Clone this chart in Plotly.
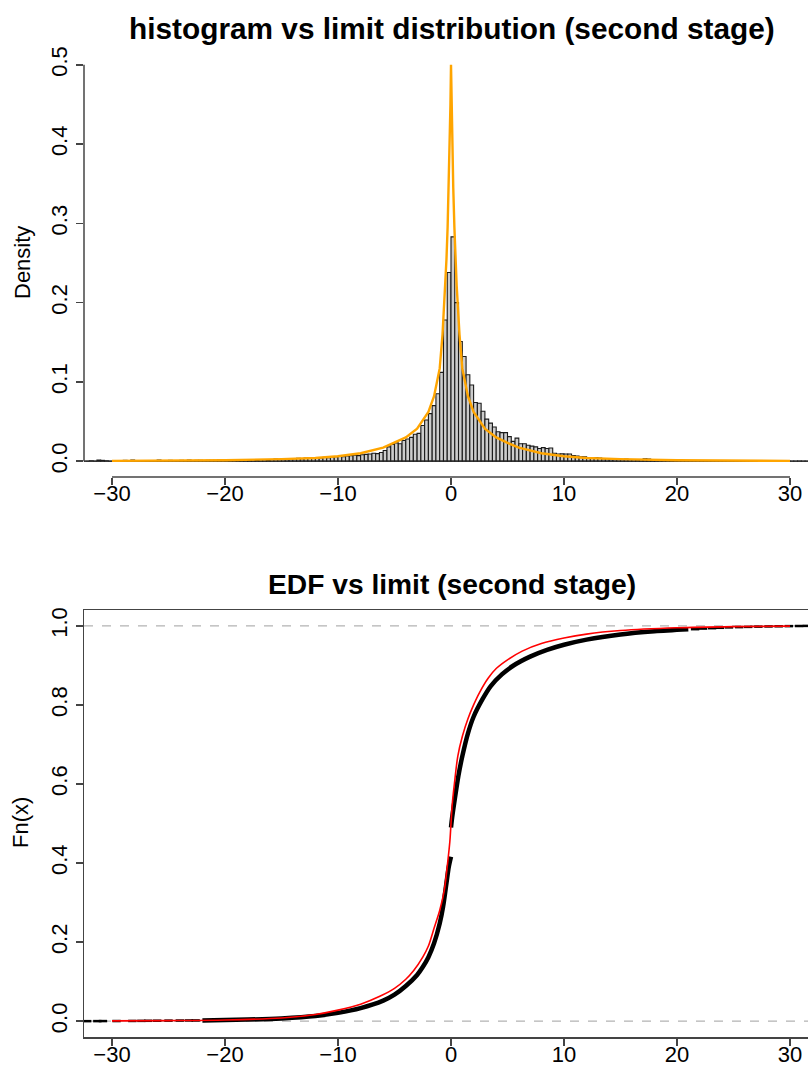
import plotly.graph_objects as go

# ---------------- data ----------------
hist_start = -33.0
bin_width = 1.0 / 3.0
# histogram densities, left to right (bins of width 1/3 from -33 to 33)
dens_left_tail = [0.0005, 0, 0, 0.0005, 0, 0.0015, 0.001, 0.0005, 0,
                  0, 0.0005, 0, 0.001, 0.0005, 0.0015, 0.0005, 0, 0.0005,
                  0.0005, 0, 0.0005, 0.0015, 0.0005, 0.0005, 0.001, 0.0005, 0.0005,
                  0.001, 0.0005, 0.0015, 0.0005, 0.001, 0.001, 0.0005, 0.001, 0.001,
                  0.001, 0.0015, 0.001, 0.001, 0.0015, 0.001, 0.002, 0.002, 0.001,
                  0.0015, 0.002, 0.0015, 0.002, 0.002, 0.0015]
dens_left_mid = [0.002, 0.0025, 0.002, 0.003, 0.0025, 0.003, 0.003, 0.0035, 0.003,
                 0.004, 0.0035, 0.004, 0.0045, 0.004, 0.005, 0.0045, 0.005, 0.0055,
                 0.006, 0.0055, 0.0065, 0.007, 0.0075, 0.007, 0.008, 0.0085, 0.009,
                 0.010, 0.0095, 0.011, 0.0135]
dens_left_core = [0.018, 0.021, 0.023, 0.022, 0.026, 0.028, 0.030, 0.034, 0.035,
                  0.045, 0.052, 0.060, 0.070, 0.085, 0.112, 0.178, 0.238]
dens_right_core = [0.283, 0.200, 0.151, 0.132, 0.109, 0.096, 0.074, 0.073, 0.063, 0.053,
                   0.048, 0.043, 0.037, 0.036, 0.036, 0.031, 0.025, 0.029, 0.022, 0.022,
                   0.020, 0.019, 0.018, 0.016, 0.017, 0.016, 0.0165, 0.010, 0.009, 0.0092,
                   0.009, 0.009, 0.0072, 0.0063, 0.0055, 0.0055, 0.0046, 0.0044, 0.0044, 0.004,
                   0.003, 0.003, 0.0028, 0.0028, 0.0025, 0.002, 0.0025]
dens_right_tail = [0.002, 0.002, 0.0018, 0.002, 0.003, 0.0025, 0.0015, 0.0015, 0.0012, 0.0012,
                   0.001, 0.001, 0.001, 0.0008, 0.001, 0.0007, 0.0008, 0.0006, 0.0007, 0.0005,
                   0.0006, 0.0005, 0.0004, 0.0005, 0.0003, 0.0005, 0.0004, 0.0003, 0.0004, 0.0003,
                   0.0003, 0.0002, 0.0004, 0.0002, 0.0003, 0.0002, 0.0002, 0.0003, 0.0001, 0.0002,
                   0.0002, 0.0001, 0.0002, 0.0001, 0.0001, 0.0002, 0.0001, 0.0001, 0.0001, 0.0,
                   0.0001, 0.0001]
hist_density = dens_left_tail + dens_left_mid + dens_left_core + dens_right_core + dens_right_tail

# limit density (orange)
pdf_x = [-30, -25, -20, -15, -12, -10, -8, -6, -5, -4, -3, -2, -1.5, -1, -0.75, -0.5,
         -0.4, -0.3, -0.2, -0.1, -0.05, 0, 0.05, 0.1, 0.2, 0.3, 0.4, 0.5, 0.75, 1, 1.5,
         2, 3, 4, 5, 6, 8, 10, 12, 15, 20, 25, 30]
pdf_y = [0.0003, 0.0006, 0.0012, 0.0025, 0.004, 0.0062, 0.010, 0.017, 0.023, 0.030, 0.041,
         0.062, 0.082, 0.117, 0.16, 0.222, 0.255, 0.295, 0.345, 0.41, 0.45, 0.5, 0.45, 0.41,
         0.345, 0.295, 0.255, 0.222, 0.16, 0.117, 0.082, 0.062, 0.041, 0.030, 0.023, 0.017,
         0.010, 0.0062, 0.004, 0.0025, 0.0012, 0.0006, 0.0003]

# limit CDF (red)
cdf_x = [-30, -25, -20, -15, -12, -10, -8, -6.3, -5, -4, -3.3, -2.5, -2, -1.5, -1, -0.6,
         -0.3, -0.1, 0, 0.1, 0.3, 0.6, 1, 1.5, 2, 2.5, 3.3, 4, 5, 6.3, 8, 10, 12, 15, 20, 25, 30]
cdf_y = [0.0008, 0.0015, 0.003, 0.008, 0.017, 0.028, 0.043, 0.063, 0.083, 0.106, 0.128,
         0.162, 0.19, 0.235, 0.28, 0.33, 0.4, 0.455, 0.5, 0.545, 0.6, 0.67, 0.72, 0.765,
         0.80, 0.83, 0.868, 0.892, 0.914, 0.936, 0.955, 0.969, 0.979, 0.988, 0.995, 0.998, 0.9993]

# empirical distribution function (black)
edf_left_x = [-22, -18, -15, -12, -10, -8, -6, -5, -4, -3, -2.5, -2, -1.5, -1, -0.7,
              -0.4, -0.2, 0]
edf_left_y = [0.002, 0.004, 0.007, 0.013, 0.021, 0.033, 0.052, 0.067, 0.089, 0.117,
              0.137, 0.162, 0.197, 0.247, 0.29, 0.35, 0.39, 0.416]
edf_right_x = [0, 0.1, 0.3, 0.65, 1, 1.5, 2, 2.8, 3.5, 4.5, 5.5, 7, 8.5, 10, 12, 15, 18, 21]
edf_right_y = [0.49, 0.515, 0.555, 0.62, 0.67, 0.728, 0.77, 0.815, 0.847, 0.877, 0.899,
               0.922, 0.939, 0.952, 0.965, 0.978, 0.986, 0.991]
edf_tail_x = [-32.2, -31.3, -30.8, -29.6, -28.2, -27.4, -26.8, -26.0, -25.0, -24.0, -23.2, -22.6,
              21.6, 22.3, 23.1, 23.8, 24.6, 25.5, 26.3, 27.2, 28.1, 29.0, 29.9, 30.8, 31.5]
edf_tail_y = [0.0001, 0.0002, 0.0003, 0.0004, 0.0006, 0.0008, 0.001, 0.0012, 0.0014, 0.0016,
              0.0018, 0.0019, 0.9915, 0.993, 0.994, 0.995, 0.996, 0.9967, 0.9973, 0.9979,
              0.9984, 0.9988, 0.9992, 0.9995, 0.9998]

x_ticks = [-30, -20, -10, 0, 10, 20, 30]
x_tick_labels = ["\u221230", "\u221220", "\u221210", "0", "10", "20", "30"]
y1_ticks = [0.0, 0.1, 0.2, 0.3, 0.4, 0.5]
y1_tick_labels = ["0.0", "0.1", "0.2", "0.3", "0.4", "0.5"]
y2_ticks = [0.0, 0.2, 0.4, 0.6, 0.8, 1.0]
y2_tick_labels = ["0.0", "0.2", "0.4", "0.6", "0.8", "1.0"]

title_top = "histogram vs limit distribution (second stage)"
title_bottom = "EDF vs limit (second stage)"

# ---------------- figure ----------------
W, H = 808, 1066
FONT = "Liberation Sans, Arial, Helvetica, sans-serif"
AX = "#444444"

n = len(hist_density)
centers = [hist_start + (i + 0.5) * bin_width for i in range(n)]
hist_end = hist_start + n * bin_width

fig = go.Figure()
fig.add_trace(go.Bar(x=centers, y=hist_density, width=bin_width,
                     marker=dict(color="#cccccc", line=dict(color="#1a1a1a", width=1.1)),
                     xaxis="x", yaxis="y", showlegend=False))
fig.add_trace(go.Scatter(x=[hist_start, hist_end], y=[0, 0], mode="lines",
                         line=dict(color="#222222", width=1), xaxis="x", yaxis="y",
                         showlegend=False))
fig.add_trace(go.Scatter(x=pdf_x, y=pdf_y, mode="lines",
                         line=dict(color="#FFA500", width=2.4), xaxis="x", yaxis="y",
                         showlegend=False))

# bottom panel
fig.add_trace(go.Scatter(x=edf_left_x, y=edf_left_y, mode="lines", line_shape="spline",
                         line=dict(color="black", width=4.5, smoothing=0.8),
                         xaxis="x2", yaxis="y2", showlegend=False))
fig.add_trace(go.Scatter(x=edf_right_x, y=edf_right_y, mode="lines", line_shape="spline",
                         line=dict(color="black", width=4.5, smoothing=0.8),
                         xaxis="x2", yaxis="y2", showlegend=False))
fig.add_trace(go.Scatter(x=edf_tail_x, y=edf_tail_y, mode="markers",
                         marker=dict(symbol="line-ew", size=6,
                                     line=dict(color="black", width=2.5)),
                         xaxis="x2", yaxis="y2", showlegend=False))
fig.add_trace(go.Scatter(x=cdf_x, y=cdf_y, mode="lines", line_shape="spline",
                         line=dict(color="#FF0000", width=1.6, smoothing=0.8),
                         xaxis="x2", yaxis="y2", showlegend=False))

xdom = [84 / W, 1.0]
xrange = [(84 - 451) / 11.3, (808 - 451) / 11.3]

tickfont = dict(family=FONT, size=22, color="black")
common_x = dict(range=xrange, domain=xdom, tickvals=x_ticks, ticktext=x_tick_labels,
                ticks="outside", ticklen=7, tickwidth=1.5, tickcolor=AX, automargin=False,
                showgrid=False, zeroline=False, tickfont=tickfont, fixedrange=True,
                ticklabelstandoff=-10)
common_y = dict(tickangle=-90, ticks="outside", ticklen=7, tickwidth=1.5, tickcolor=AX,
                automargin=False, showgrid=False, zeroline=False, tickfont=tickfont,
                ticklabelstandoff=0, fixedrange=True)

fig.update_layout(
    width=W, height=H,
    margin=dict(l=0, r=0, t=0, b=0, pad=0),
    paper_bgcolor="white", plot_bgcolor="white",
    bargap=0,
    xaxis=dict(anchor="y", showline=False, **common_x),
    yaxis=dict(domain=[(H - 477) / H, (H - 49) / H], range=[-0.02, 0.52], anchor="x",
               tickvals=y1_ticks, ticktext=y1_tick_labels, showline=False, **common_y),
    xaxis2=dict(anchor="y2", showline=True, linecolor=AX, linewidth=1.5, mirror=True,
                **common_x),
    yaxis2=dict(domain=[(H - 1037) / H, (H - 610) / H], range=[-0.04, 1.04], anchor="x2",
                tickvals=y2_ticks, ticktext=y2_tick_labels,
                showline=True, linecolor=AX, linewidth=1.5, **common_y),
    shapes=[
        dict(type="line", xref="x domain", yref="y", x0=0, x1=0, y0=0, y1=0.5,
             line=dict(color=AX, width=1.5)),
        dict(type="line", xref="x", yref="y domain", x0=-30, x1=30, y0=0, y1=0,
             line=dict(color=AX, width=1.5)),
        dict(type="line", xref="x2 domain", yref="y2", x0=0, x1=1, y0=0, y1=0,
             line=dict(color="#b3b3b3", width=1.2, dash="dash"), layer="below"),
        dict(type="line", xref="x2 domain", yref="y2", x0=0, x1=1, y0=1, y1=1,
             line=dict(color="#b3b3b3", width=1.2, dash="dash"), layer="below"),
    ],
    annotations=[
        dict(text="<b>" + title_top + "</b>", xref="paper", yref="paper",
             x=452 / W, y=1 - 29 / H, xanchor="center", yanchor="middle", showarrow=False,
             font=dict(family=FONT, size=29.8, color="black")),
        dict(text="<b>" + title_bottom + "</b>", xref="paper", yref="paper",
             x=452 / W, y=1 - 584 / H, xanchor="center", yanchor="middle", showarrow=False,
             font=dict(family=FONT, size=28.2, color="black")),
        dict(text="Density", xref="paper", yref="paper", x=23 / W, y=1 - 263 / H,
             xanchor="center", yanchor="middle", textangle=-90, showarrow=False,
             font=dict(family=FONT, size=22, color="black")),
        dict(text="Fn(x)", xref="paper", yref="paper", x=20 / W, y=1 - 823 / H,
             xanchor="center", yanchor="middle", textangle=-90, showarrow=False,
             font=dict(family=FONT, size=22, color="black")),
    ],
)

fig.write_html("out.html",
               config={"displayModeBar": False, "staticPlot": True},
               post_script="document.body.style.margin='0';"
                           "document.body.style.padding='0';"
                           "document.body.style.overflow='hidden';")
